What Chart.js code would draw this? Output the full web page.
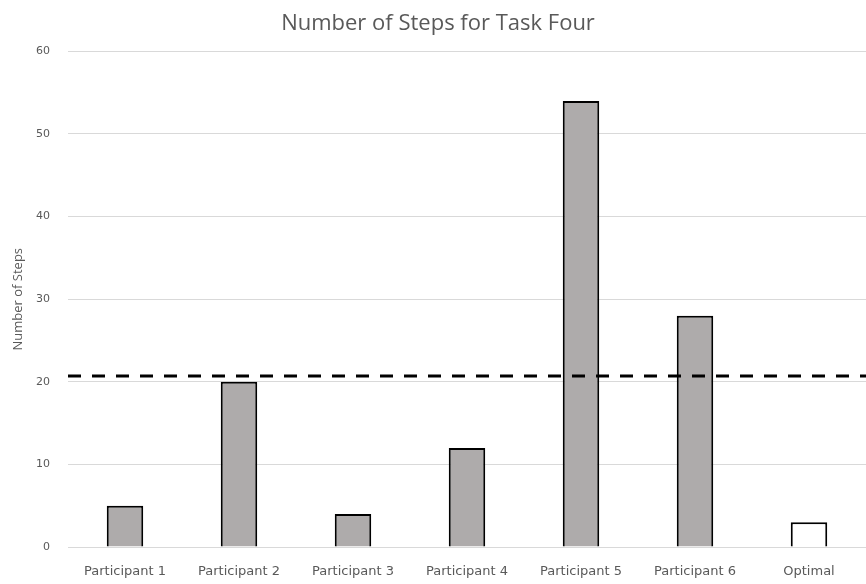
<!DOCTYPE html>
<html lang="en">
<head>
  <meta charset="UTF-8" />
  <title>Number of Steps for Task Four</title>
  <script src="https://cdn.jsdelivr.net/npm/chart.js"></script>
  <style>
    html, body {
      margin: 0;
      padding: 0;
      background: #ffffff;
    }

    .chart-container {
      width: 866px;
      height: 584px;
    }
  </style>
</head>
<body>
  <div class="chart-container">
    <canvas id="stepsChart"></canvas>
  </div>

  <script>
    const categories = ['Participant 1', 'Participant 2', 'Participant 3', 'Participant 4', 'Participant 5', 'Participant 6', 'Optimal'];
    const steps = [5, 20, 4, 12, 54, 28, 3];
    const averageSteps = 20.7;
    const yTicks = [0, 10, 20, 30, 40, 50, 60];

    const textColor = '#595959';
    const fontFamily = '"Open Sans", "Noto Sans", sans-serif';
    const tickFamily = '"DejaVu Sans", sans-serif';

    // dashed reference line across the whole plot area
    const averageLine = {
      id: 'averageLine',
      afterDatasetsDraw(chart) {
        const { ctx, chartArea, scales } = chart;
        const y = scales.y.getPixelForValue(averageSteps);
        ctx.save();
        ctx.strokeStyle = '#000000';
        ctx.lineWidth = 3;
        ctx.setLineDash([13, 11]);
        ctx.beginPath();
        ctx.moveTo(chartArea.left, y);
        ctx.lineTo(chartArea.right, y);
        ctx.stroke();
        ctx.restore();
      }
    };

    const ctx = document.getElementById('stepsChart').getContext('2d');

    new Chart(ctx, {
      type: 'bar',
      data: {
        labels: categories,
        datasets: [{
          label: 'Number of Steps',
          data: steps,
          backgroundColor: (c) => categories[c.dataIndex] === 'Optimal' ? '#ffffff' : '#aeabab',
          borderColor: '#000000',
          borderWidth: 2,
          borderSkipped: 'bottom',
          categoryPercentage: 1,
          barPercentage: 0.32
        }]
      },
      options: {
        responsive: true,
        maintainAspectRatio: false,
        animation: false,
        layout: {
          padding: { top: 0, right: 0, bottom: 0, left: 10 }
        },
        plugins: {
          legend: { display: false },
          tooltip: { enabled: false },
          title: {
            display: true,
            text: 'Number of Steps for Task Four',
            color: textColor,
            font: { family: fontFamily, size: 22, weight: 'normal' },
            padding: { top: 11, bottom: 14 }
          }
        },
        scales: {
          x: {
            grid: { display: false },
            border: { display: false },
            afterFit: (scale) => { scale.height = 37; },
            ticks: {
              color: textColor,
              font: { family: tickFamily, size: 13 },
              maxRotation: 0,
              padding: 9
            }
          },
          y: {
            min: 0,
            max: 60,
            afterBuildTicks: (scale) => {
              scale.ticks = yTicks.map(v => ({ value: v }));
            },
            afterFit: (scale) => { scale.width = 58; },
            grid: { color: '#d9d9d9', lineWidth: 1, drawTicks: false },
            border: { display: false },
            title: {
              display: true,
              text: 'Number of Steps',
              color: textColor,
              font: { family: fontFamily, size: 13 },
              padding: { top: 0, bottom: 10 }
            },
            ticks: {
              color: textColor,
              font: { family: tickFamily, size: 11 },
              padding: 18
            }
          }
        }
      },
      plugins: [averageLine]
    });
  </script>
</body>
</html>
